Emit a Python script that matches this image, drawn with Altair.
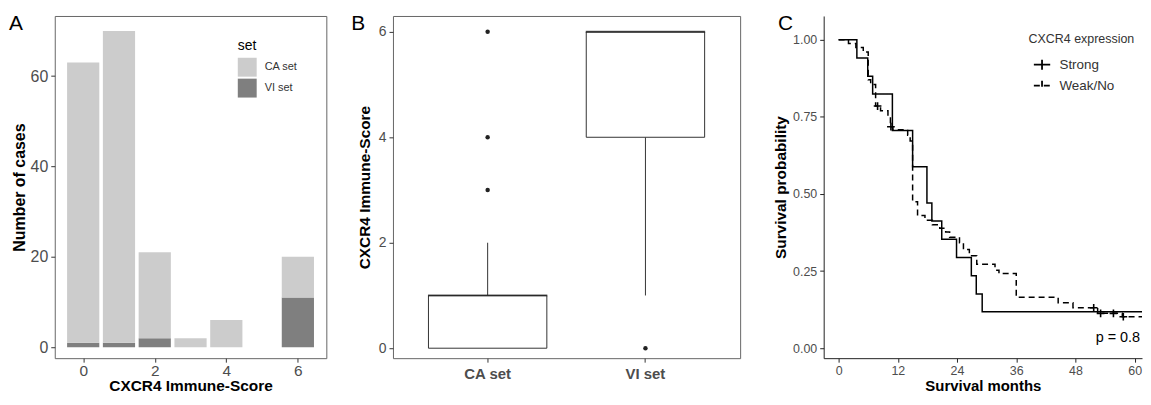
import altair as alt
import numpy as np
import pandas as pd

FONT = "Liberation Sans"

# ---------------- Panel A : counts per immune score ----------------
scores = [0, 1, 2, 3, 4, 6]
ca_counts = [62, 69, 19, 2, 6, 9]
vi_counts = [1, 1, 2, 0, 0, 11]
set_names = ["CA set", "VI set"]
set_colors = ["#CCCCCC", "#7F7F7F"]
score_ticks = [0, 2, 4, 6]
count_ticks = [0, 20, 40, 60]

# ---------------- Panel C : Kaplan-Meier curves ----------------
groups = ["Strong", "Weak/No"]
strong_time = [0, 3.7, 5.9, 6.9, 10.9, 15.0, 17.9, 18.9, 20.9, 23.9, 26.9, 27.9, 29.1, 63]
strong_surv = [1.0, 0.941, 0.882, 0.824, 0.706, 0.588, 0.471, 0.412, 0.353, 0.294, 0.235, 0.176, 0.118, 0.118]
weak_time = [0, 2.0, 3.5, 5.0, 6.0, 6.5, 7.5, 8.5, 10.0, 10.5, 11.0, 14.0, 14.5, 15.0, 16.0, 17.5,
             19.0, 20.5, 21.7, 22.5, 24.5, 25.3, 26.5, 28.0, 31.7, 32.5, 36.0, 44.5, 47.5, 52.5, 57.5, 63]
weak_surv = [1.0, 0.988, 0.975, 0.96, 0.87, 0.855, 0.785, 0.77, 0.75, 0.718, 0.708, 0.69, 0.672, 0.475, 0.43, 0.415,
             0.40, 0.389, 0.377, 0.36, 0.342, 0.32, 0.30, 0.272, 0.253, 0.242, 0.165, 0.147, 0.131, 0.113, 0.102, 0.102]
weak_censor_time = [7.9, 10.6, 51.7, 53.1, 55.7, 57.7]
month_ticks = [0, 12, 24, 36, 48, 60]
prob_ticks = [0.0, 0.25, 0.5, 0.75, 1.0]
p_label = "p = 0.8"

# ---------------- tables ----------------
rows = []
for s, ca, vi in zip(scores, ca_counts, vi_counts):
    if vi > 0:
        rows.append({"score": s, "set": "VI set", "y0": 0, "y1": vi})
    if ca > 0:
        rows.append({"score": s, "set": "CA set", "y0": vi, "y1": vi + ca})
df_a = pd.DataFrame(rows)

# box statistics (ggplot style, type-7 quantiles, 1.5 IQR whiskers)
box_rows, out_rows = [], []
for name, counts in zip(set_names, [ca_counts, vi_counts]):
    vals = np.repeat(scores, counts).astype(float)
    q1, med, q3 = np.percentile(vals, [25, 50, 75])
    iqr = q3 - q1
    inside = vals[(vals >= q1 - 1.5 * iqr) & (vals <= q3 + 1.5 * iqr)]
    box_rows.append({"set": name, "q1": q1, "med": med, "q3": q3,
                     "lo": inside.min(), "hi": inside.max()})
    for v in np.unique(vals[(vals < q1 - 1.5 * iqr) | (vals > q3 + 1.5 * iqr)]):
        out_rows.append({"set": name, "v": v})
df_box = pd.DataFrame(box_rows)
df_out = pd.DataFrame(out_rows)

df_km = pd.concat([
    pd.DataFrame({"group": "Strong", "time": strong_time, "surv": strong_surv}),
    pd.DataFrame({"group": "Weak/No", "time": weak_time, "surv": weak_surv}),
], ignore_index=True)
cens_surv = [weak_surv[int(np.searchsorted(weak_time, t, side="right")) - 1] for t in weak_censor_time]
df_cens = pd.DataFrame({"group": "Weak/No", "time": weak_censor_time, "surv": cens_surv})

LABEL_GREY = "#4D4D4D"
TICK_GREY = "#333333"
H = 344


def letter(txt, dx):
    return alt.Chart(pd.DataFrame({"t": [txt]})).mark_text(
        align="left", baseline="alphabetic", fontSize=21, font=FONT, color="black"
    ).encode(text="t:N", x=alt.value(dx), y=alt.value(14))


# ---------------- Panel A ----------------
bars = alt.Chart(df_a).transform_calculate(
    lo="datum.score - 0.45", hi="datum.score + 0.45"
).mark_bar().encode(
    x=alt.X("lo:Q", scale=alt.Scale(domain=[-0.795, 6.795], nice=False, zero=False),
            axis=alt.Axis(values=score_ticks, title="CXCR4 Immune-Score", grid=False, domain=False,
                          tickColor=TICK_GREY, tickSize=4, labelFontSize=15.5, labelColor=LABEL_GREY,
                          labelPadding=1, titleFontSize=15.5, titleFontWeight="bold", titleColor="black",
                          titlePadding=0, labelFont=FONT, titleFont=FONT)),
    x2="hi:Q",
    y=alt.Y("y0:Q", scale=alt.Scale(domain=[-2.42, 73.3], nice=False, zero=False),
            axis=alt.Axis(values=count_ticks, title="Number of cases", grid=False, domain=False,
                          tickColor=TICK_GREY, tickSize=4, labelFontSize=16, labelColor=LABEL_GREY,
                          labelPadding=3, titleFontSize=16, titleFontWeight="bold", titleColor="black",
                          titlePadding=3, labelFont=FONT, titleFont=FONT)),
    y2="y1:Q",
    color=alt.Color("set:N", scale=alt.Scale(domain=set_names, range=set_colors),
                    legend=alt.Legend(orient="none", legendX=184, legendY=23, title="set",
                                      titleFont=FONT, titleFontSize=14, titleFontWeight="normal",
                                      titleColor="black", labelFont=FONT, labelFontSize=11,
                                      labelColor="#333333", symbolType="square", symbolSize=361,
                                      symbolStrokeWidth=0, rowPadding=2, titlePadding=5,
                                      labelOffset=8)),
)
panel_a = alt.layer(bars, letter("A", -46)).properties(
    width=273, height=H, view=alt.ViewBackground(stroke="#666666", strokeWidth=1))

# ---------------- Panel B ----------------
xb = alt.X("set:N", sort=set_names,
           scale=alt.Scale(domain=set_names, paddingInner=0, paddingOuter=0.1),
           axis=alt.Axis(title=None, labelAngle=0, tickColor=TICK_GREY, tickSize=4, domain=False,
                         labelFontSize=15, labelFontWeight="bold", labelColor=LABEL_GREY,
                         labelPadding=4, labelFont=FONT))
yscale_b = alt.Scale(domain=[-0.189, 6.3], nice=False, zero=False)
yaxis_b = alt.Axis(values=[0, 2, 4, 6], title="CXCR4 Immune-Score", grid=False, domain=False,
                   tickColor=TICK_GREY, tickSize=4, labelFontSize=14, labelColor=LABEL_GREY,
                   labelPadding=3, titleFontSize=15.5, titleFontWeight="bold", titleColor="black",
                   titlePadding=6, labelFont=FONT, titleFont=FONT)
base_b = alt.Chart(df_box)
whisk_lo = base_b.mark_rule(color=TICK_GREY, strokeWidth=1).encode(
    x=xb, y=alt.Y("lo:Q", scale=yscale_b, axis=yaxis_b), y2="q1:Q")
whisk_hi = base_b.mark_rule(color=TICK_GREY, strokeWidth=1).encode(
    x=xb, y=alt.Y("q3:Q", scale=yscale_b, axis=yaxis_b), y2="hi:Q")
box = base_b.mark_bar(fill="white", stroke=TICK_GREY, strokeWidth=1, size=119).encode(
    x=xb, y=alt.Y("q1:Q", scale=yscale_b, axis=yaxis_b), y2="q3:Q")
median = base_b.mark_tick(color="#222222", thickness=2.2, size=120).encode(
    x=xb, y=alt.Y("med:Q", scale=yscale_b, axis=yaxis_b))
outl = alt.Chart(df_out).mark_circle(color="#222222", size=20, opacity=1).encode(
    x=xb, y=alt.Y("v:Q", scale=yscale_b, axis=yaxis_b))
panel_b = alt.layer(whisk_lo, whisk_hi, box, median, outl, letter("B", -42)).properties(
    width=349, height=H, view=alt.ViewBackground(stroke="#666666", strokeWidth=1))

# ---------------- Panel C ----------------
xc = alt.X("time:Q", scale=alt.Scale(domain=[-3.024, 61.49], nice=False, zero=False),
           axis=alt.Axis(values=month_ticks, title="Survival months", grid=False,
                         domainColor="#222222", tickColor="#222222", tickSize=4,
                         labelFontSize=12.5, labelColor=LABEL_GREY, labelPadding=2,
                         titleFontSize=15, titleFontWeight="bold", titleColor="black",
                         titlePadding=2, labelFont=FONT, titleFont=FONT))
yc = alt.Y("surv:Q", scale=alt.Scale(domain=[-0.0323, 1.077], nice=False, zero=False),
           axis=alt.Axis(values=prob_ticks, format=".2f", title="Survival probability", grid=False,
                         domainColor="#222222", tickColor="#222222", tickSize=4,
                         labelFontSize=12.5, labelColor=LABEL_GREY, labelPadding=3,
                         titleFontSize=15.5, titleFontWeight="bold", titleColor="black",
                         titlePadding=4, labelFont=FONT, titleFont=FONT))
lines = alt.Chart(df_km).mark_line(interpolate="step-after", color="black", strokeWidth=1.5,
                                   clip=True).encode(
    x=xc, y=yc,
    strokeDash=alt.StrokeDash("group:N", scale=alt.Scale(domain=groups, range=[[1, 0], [6, 4]]),
                              legend=alt.Legend(orient="none", legendX=979, legendY=17,
                                                title="CXCR4 expression", titleFont=FONT,
                                                titleFontSize=12.5, titleFontWeight="normal",
                                                titleColor="#333333", labelFont=FONT,
                                                labelFontSize=13.5, labelColor="#333333",
                                                symbolType="M-1,0L1,0M0,-0.6L0,0.6",
                                                symbolSize=270, symbolStrokeWidth=1.8,
                                                symbolStrokeColor="black", symbolOffset=4,
                                                rowPadding=2, titlePadding=10, labelOffset=8)),
)
cens = alt.Chart(df_cens).mark_point(shape="M-1,0L1,0M0,-1L0,1", filled=False, color="black",
                                     strokeWidth=1.6, size=60, opacity=1, clip=True).encode(x=xc, y=yc)
ptext = alt.Chart(pd.DataFrame({"t": [p_label]})).mark_text(
    fontSize=14.5, font=FONT, color="black", align="center", baseline="middle"
).encode(text="t:N", x=alt.datum(56.6), y=alt.datum(0.033))
spacer = alt.Chart(pd.DataFrame({"t": [0]})).mark_rule(strokeOpacity=0).encode(
    x=alt.value(-59), y=alt.value(0), y2=alt.value(10))
panel_c = alt.layer(lines, cens, ptext, letter("C", -46), spacer).properties(
    width=320, height=H, view=alt.ViewBackground(stroke="transparent"))

chart = alt.hconcat(panel_a, panel_b, panel_c, spacing=23).properties(
    padding={"left": 0, "top": 3, "right": 0, "bottom": 0}
).configure(font=FONT)

chart.save("out.html", embed_options={"renderer": "svg", "actions": False})
